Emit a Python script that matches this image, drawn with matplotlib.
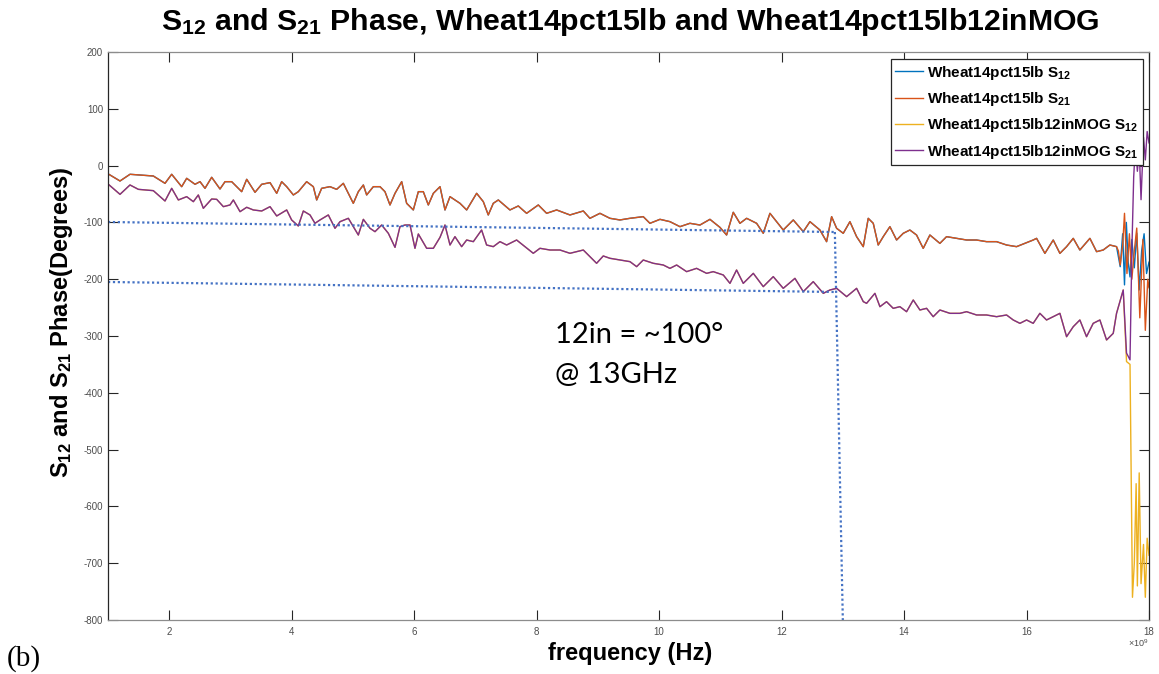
import matplotlib
matplotlib.use("Agg")
import matplotlib.pyplot as plt
from matplotlib import font_manager as fm
import numpy as np

# ---------------- data (frequency in GHz, phase in degrees) ----------------
upper_f = [1.006, 1.196, 1.359, 1.740, 1.931, 2.040, 2.203, 2.285, 2.421, 2.503, 2.584, 2.693,
           2.829, 2.911, 3.020, 3.183, 3.265, 3.401, 3.510, 3.646, 3.755, 3.836, 3.918, 4.027,
           4.108, 4.244, 4.353, 4.408, 4.489, 4.625, 4.734, 4.843, 4.925, 5.006, 5.088, 5.170,
           5.224, 5.333, 5.442, 5.523, 5.605, 5.687, 5.796, 5.877, 5.986, 6.068, 6.149, 6.231,
           6.313, 6.422, 6.503, 6.585, 6.666, 6.748, 6.857, 7.020, 7.129, 7.210, 7.292, 7.374,
           7.564, 7.700, 7.836, 8.027, 8.163, 8.326, 8.544, 8.762, 8.870, 9.034, 9.197, 9.360,
           9.524, 9.741, 9.850, 10.014, 10.177, 10.340, 10.503, 10.667, 10.830, 10.993, 11.102,
           11.211, 11.320, 11.429, 11.592, 11.701, 11.810, 11.919, 12.027, 12.191, 12.354,
           12.463, 12.626, 12.735, 12.817, 12.899, 13.007, 13.116, 13.225, 13.334, 13.415,
           13.497, 13.578, 13.660, 13.769, 13.878, 13.987, 14.095, 14.204, 14.313, 14.422,
           14.585, 14.694, 14.858, 15.021, 15.184, 15.347, 15.511, 15.674, 15.837, 15.971,
           16.109, 16.164, 16.300, 16.436, 16.545, 16.654, 16.763, 16.871, 17.035, 17.144,
           17.252, 17.361, 17.470]
upper_p = [-14.8, -27.1, -15.3, -18.3, -31.2, -15.3, -37.1, -22.4, -32.9, -28.3, -40.0, -20.6,
           -41.2, -28.3, -28.3, -45.9, -24.1, -47.0, -32.9, -30.0, -48.8, -28.3, -37.1, -51.7,
           -45.9, -28.3, -37.1, -60.5, -40.0, -37.1, -41.8, -31.2, -48.8, -66.4, -45.9, -34.1,
           -51.7, -37.1, -37.1, -45.9, -69.3, -48.8, -28.3, -66.4, -78.1, -45.9, -45.9, -69.3,
           -48.8, -37.1, -78.1, -54.7, -60.5, -66.4, -78.1, -48.8, -63.5, -86.9, -66.4, -60.5,
           -78.1, -71.1, -84.0, -69.3, -84.0, -78.1, -86.9, -79.9, -92.8, -84.0, -92.8, -95.7,
           -92.8, -89.9, -101.6, -94.6, -98.7, -107.5, -101.6, -104.6, -94.6, -108.7, -122.2,
           -82.2, -101.6, -92.8, -101.6, -119.2, -84.0, -98.7, -113.4, -95.7, -116.3,
           -98.7, -113.4, -133.9, -89.9, -110.4, -119.2, -98.7, -125.1, -142.7, -92.8,
           -101.6, -139.8, -125.1, -107.5, -131.0, -119.2, -113.4, -122.2, -145.7, -122.2,
           -136.9, -125.1, -128.1, -131.0, -131.0, -133.9, -133.9, -139.8, -142.7, -136.9,
           -131.0, -128.1, -154.5, -131.0, -154.5, -142.7, -128.1, -148.6, -128.1, -151.5,
           -148.6, -139.8, -142.7]

s12_tail_f = [17.50, 17.53, 17.57, 17.60, 17.63, 17.66, 17.69, 17.72, 17.76, 17.80, 17.84, 17.88, 17.92, 17.96, 18.0]
s12_tail_p = [-160, -178, -120, -210, -100, -170, -196, -130, -180, -119, -219, -150, -120, -190, -170]
s21_tail_f = [17.50, 17.53, 17.57, 17.60, 17.64, 17.68, 17.72, 17.76, 17.80, 17.85, 17.90, 17.94, 17.98, 18.0]
s21_tail_p = [-150, -175, -140, -84, -190, -120, -200, -150, -110, -268, -130, -290, -200, -215]

lower_f = [1.006, 1.196, 1.359, 1.496, 1.740, 1.931, 2.040, 2.149, 2.285, 2.394, 2.475, 2.557,
           2.693, 2.775, 2.884, 2.992, 3.047, 3.156, 3.265, 3.373, 3.510, 3.646, 3.755, 3.918,
           3.999, 4.108, 4.190, 4.299, 4.380, 4.462, 4.598, 4.707, 4.789, 4.925, 5.006, 5.088,
           5.170, 5.279, 5.360, 5.469, 5.578, 5.687, 5.768, 5.850, 5.932, 6.013, 6.068, 6.204,
           6.313, 6.422, 6.503, 6.585, 6.666, 6.775, 6.857, 6.966, 7.101, 7.183, 7.292, 7.401,
           7.510, 7.673, 7.809, 7.945, 8.054, 8.217, 8.381, 8.544, 8.762, 8.979, 9.088, 9.197,
           9.360, 9.524, 9.633, 9.741, 9.905, 10.068, 10.177, 10.286, 10.449, 10.612, 10.776,
           10.884, 11.048, 11.157, 11.265, 11.374, 11.538, 11.701, 11.864, 12.027, 12.218,
           12.354, 12.517, 12.681, 12.789, 12.899, 13.062, 13.225, 13.334, 13.388, 13.524,
           13.606, 13.714, 13.823, 13.932, 14.041, 14.150, 14.259, 14.368, 14.476, 14.585,
           14.749, 14.912, 15.021, 15.184, 15.347, 15.511, 15.674, 15.783, 15.892, 16.001,
           16.109, 16.218, 16.327, 16.436, 16.545, 16.654, 16.763, 16.871, 16.980, 17.089,
           17.198, 17.307, 17.416, 17.470, 17.579]
lower_p = [-32.9, -50.6, -34.1, -41.8, -44.1, -62.3, -40.0, -60.5, -54.7, -63.5, -51.7, -75.2,
           -58.8, -59.4, -72.3, -69.3, -60.5, -81.1, -73.4, -78.1, -79.9, -72.3, -88.7, -78.1,
           -95.7, -106.3, -79.9, -86.9, -101.6, -95.7, -86.9, -110.4, -98.7, -92.8, -107.5, -122.2,
           -94.6, -110.4, -116.3, -104.6, -119.2, -143.9, -107.5, -104.6, -104.6, -145.6, -120.4, -145.6,
           -145.6, -126.3, -104.6, -139.8, -125.1, -142.7, -131.0, -133.9, -113.4, -139.8, -142.7, -133.9,
           -139.8, -131.0, -142.7, -154.4, -145.6, -148.6, -148.6, -154.4, -148.6, -172.0, -159.1, -163.2,
           -166.2, -169.1, -177.9, -166.2, -172.0, -175.0, -180.9, -175.0, -186.7, -180.9, -189.7,
           -186.7, -192.6, -207.3, -183.8, -207.3, -189.7, -213.1, -195.5, -216.1, -198.5,
           -221.9, -204.3, -224.9, -219.0, -216.1, -230.7, -216.1, -239.5, -242.5, -224.9,
           -248.4, -239.6, -251.3, -248.4, -257.2, -236.6, -254.2, -251.3, -266.0, -254.2,
           -260.1, -260.1, -257.2, -263.0, -263.0, -266.0, -263.0, -271.8, -277.7, -271.8,
           -277.7, -260.1, -271.8, -266.0, -260.1, -301.2, -283.6, -271.8, -301.2, -277.7,
           -271.8, -307.0, -295.3, -260.1, -219.0]

mog12_tail_f = [17.633, 17.69, 17.73, 17.76, 17.79, 17.81, 17.84, 17.87, 17.91, 17.94, 17.97, 18.0]
mog12_tail_p = [-345, -350, -760, -700, -560, -740, -541, -736, -667, -760, -656, -686]
mog21_tail_f = [17.633, 17.69, 17.72, 17.75, 17.78, 17.81, 17.84, 17.87, 17.91, 17.94, 17.97, 18.0]
mog21_tail_p = [-330, -342, -150, -20, 40, -10, 30, -60, 50, 10, 60, 40]

# annotation guide lines (GHz, degrees)
guide_upper_f = [1.0, 12.87]
guide_upper_p = [-99.3, -116.9]
guide_lower_f = [1.0, 12.87]
guide_lower_p = [-204.9, -222.5]
guide_vert_f = [12.87, 13.0]
guide_vert_p = [-116.9, -800.0]

xtick_vals = [2, 4, 6, 8, 10, 12, 14, 16, 18]
ytick_vals = [200, 100, 0, -100, -200, -300, -400, -500, -600, -700, -800]

labels = ["Wheat14pct15lb S$_\\mathbf{12}$", "Wheat14pct15lb S$_\\mathbf{21}$",
          "Wheat14pct15lb12inMOG S$_\\mathbf{12}$", "Wheat14pct15lb12inMOG S$_\\mathbf{21}$"]
colors = ["#0072BD", "#D95319", "#EDB120", "#7E2F8E"]

# ---------------- fonts ----------------
avail = {f.name for f in fm.fontManager.ttflist}
narrow = "Liberation Sans Narrow" if "Liberation Sans Narrow" in avail else "Liberation Sans"
plt.rcParams["font.family"] = [narrow, "DejaVu Sans"]
plt.rcParams["mathtext.fontset"] = "custom"
plt.rcParams["mathtext.rm"] = narrow
plt.rcParams["mathtext.bf"] = narrow + ":bold"
plt.rcParams["mathtext.it"] = narrow + ":italic"

W, H = 1159, 674
fig = plt.figure(figsize=(W / 100, H / 100), dpi=100)
L, R, T, B = 108, 1149, 52, 620
ax = fig.add_axes([L / W, 1 - B / H, (R - L) / W, (B - T) / H])

G = 1e9
s12_f = np.array(upper_f + s12_tail_f) * G
s12_p = upper_p + s12_tail_p
s21_f = np.array(upper_f + s21_tail_f) * G
s21_p = upper_p + s21_tail_p
m12_f = np.array(lower_f + mog12_tail_f) * G
m12_p = lower_p + mog12_tail_p
m21_f = np.array(lower_f + mog21_tail_f) * G
m21_p = lower_p + mog21_tail_p

lw = 1.0
ax.plot(s12_f, s12_p, color=colors[0], lw=lw, label=labels[0])
ax.plot(s21_f, s21_p, color=colors[1], lw=lw, label=labels[1])
ax.plot(m12_f, m12_p, color=colors[2], lw=lw, label=labels[2])
ax.plot(m21_f, m21_p, color=colors[3], lw=lw, label=labels[3])

gc = "#4472C4"
for gf, gp in [(guide_upper_f, guide_upper_p), (guide_lower_f, guide_lower_p), (guide_vert_f, guide_vert_p)]:
    ax.plot(np.array(gf) * G, gp, color=gc, lw=1.6, ls=(0, (1, 1.2)))

ax.set_xlim(1 * G, 18 * G)
ax.set_ylim(-800, 200)
ax.set_xticks([v * G for v in xtick_vals])
ax.set_xticklabels([str(v) for v in xtick_vals])
ax.set_yticks(ytick_vals)
ax.set_yticklabels([str(v) for v in ytick_vals])
ax.tick_params(axis="both", direction="in", length=7, width=0.8, labelsize=7,
               labelcolor="#4d4d4d", top=True, right=True, color="#262626")
ax.tick_params(axis="x", pad=5)
for s in ["left", "right"]:
    ax.spines[s].set_color("#262626")
for s in ["top", "bottom"]:
    ax.spines[s].set_color("#8c8c8c")
for s in ax.spines.values():
    s.set_linewidth(0.9)

ax.text(1.0, -0.040, "$\\times$10$^9$", transform=ax.transAxes, ha="right", va="center",
        fontsize=6.5, color="#4d4d4d")

fig.text(0.5436, 0.967, "S$_\\mathbf{12}$ and S$_\\mathbf{21}$ Phase, Wheat14pct15lb and Wheat14pct15lb12inMOG",
         ha="center", va="center", fontsize=21.8, fontweight="bold")
fig.text(0.5436, 0.03, "frequency (Hz)", ha="center", va="center", fontsize=17, fontweight="bold")
fig.text(0.053, (1 - B / H + 1 - T / H) / 2 + 0.02, "S$_\\mathbf{12}$ and S$_\\mathbf{21}$ Phase(Degrees)",
         ha="center", va="center", rotation=90, fontsize=17, fontweight="bold")
fig.text(0.006, 0.012, "(b)", ha="left", va="baseline", fontsize=21, family="Liberation Serif")

ax.text(8.30 * G, -312, "12in = ~100°", fontsize=21, family=["Lato", "DejaVu Sans"], va="baseline", ha="left")
ax.text(8.30 * G, -383, "@ 13GHz", fontsize=21, family=["Lato", "DejaVu Sans"], va="baseline", ha="left")

leg = ax.legend(loc="upper right", bbox_to_anchor=(1 - 6 / (R - L), 1 - 7 / (B - T)), borderaxespad=0,
                prop={"weight": "bold", "size": 11}, fancybox=False, framealpha=1,
                edgecolor="#262626", handlelength=1.8, handletextpad=0.3, labelspacing=0.55,
                borderpad=0.3)
leg.get_frame().set_linewidth(0.9)

fig.savefig("out.png", dpi=100)
